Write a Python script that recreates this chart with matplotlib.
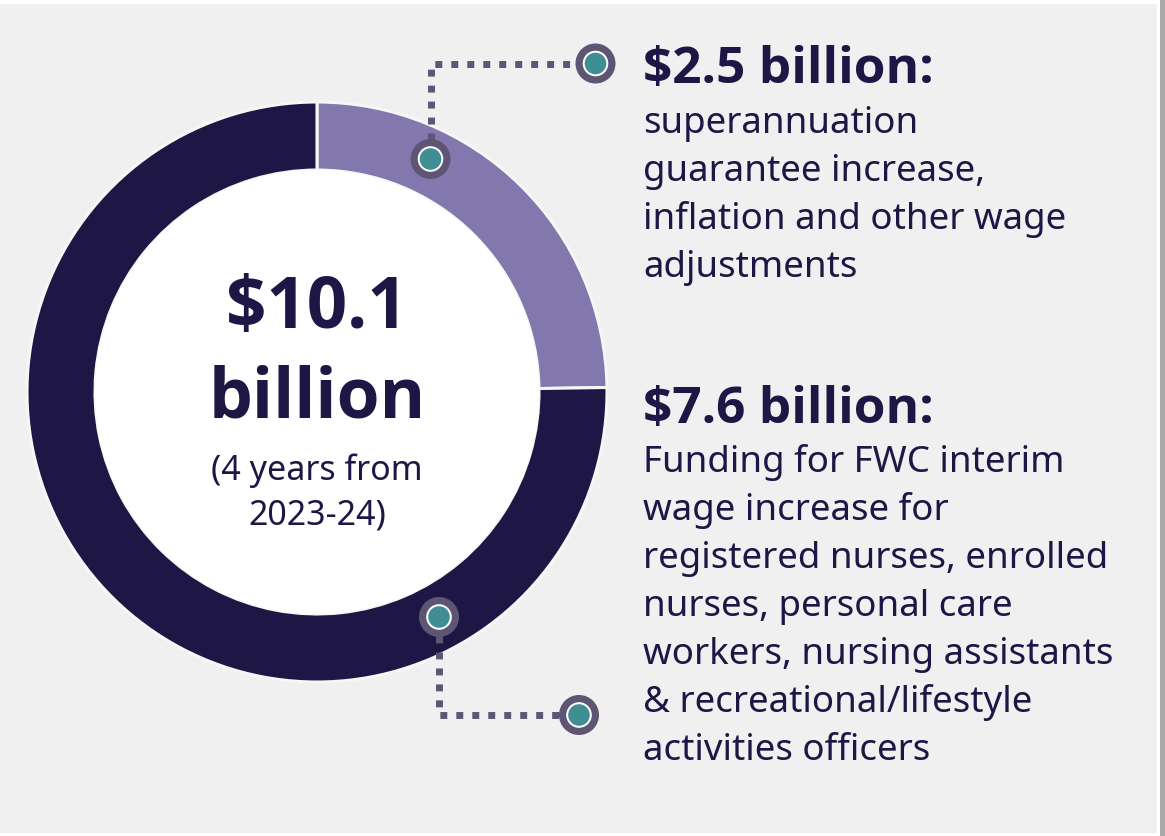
import matplotlib
matplotlib.use("Agg")
import matplotlib.pyplot as plt
from matplotlib.patches import Rectangle, Circle

# ---- data ----
labels = ["$2.5 billion:", "$7.6 billion:"]
values = [2.5, 7.6]
total_label = ["$10.1", "billion"]
total_note = ["(4 years from", "2023-24)"]
desc_top = ["superannuation", "guarantee increase,", "inflation and other wage", "adjustments"]
desc_bottom = ["Funding for FWC interim", "wage increase for", "registered nurses, enrolled",
               "nurses, personal care", "workers, nursing assistants",
               "& recreational/lifestyle", "activities officers"]

# ---- style ----
NAVY = "#1E1745"
LIGHT = "#8378AD"
BG = "#F0F0F0"
MARK = "#5E5473"
TEAL = "#3F8E93"
FONT = "Noto Sans"
BFONT = "Open Sans"

W, H = 1165, 836
fig = plt.figure(figsize=(W / 100, H / 100), dpi=100, facecolor="white")

# background axes in pixel coords
bg = fig.add_axes([0, 0, 1, 1])
bg.set_xlim(0, W); bg.set_ylim(H, 0); bg.axis("off")
bg.add_patch(Rectangle((0, 4), 1157, 829, facecolor=BG, edgecolor="none"))
bg.add_patch(Rectangle((1160, 0), 5, 836, facecolor="#A9A9A9", edgecolor="none"))

# donut
cx, cy, R, r_in = 317, 392, 290, 222
pax = fig.add_axes([(cx - R) / W, (H - cy - R) / H, 2 * R / W, 2 * R / H])
pax.pie(values, colors=[LIGHT, NAVY], startangle=90, counterclock=False, radius=1,
        wedgeprops=dict(width=(R - r_in) / R, edgecolor="#F6F6F6", linewidth=2.2))
pax.add_patch(Circle((0, 0), r_in / R, facecolor="white", edgecolor="none"))
pax.set_xlim(-1, 1); pax.set_ylim(-1, 1); pax.axis("off")

# overlay
ov = fig.add_axes([0, 0, 1, 1])
ov.set_xlim(0, W); ov.set_ylim(H, 0); ov.axis("off"); ov.patch.set_alpha(0)

def marker(x, y):
    ov.add_patch(Circle((x, y), 20, facecolor=MARK, edgecolor="none", zorder=5))
    ov.add_patch(Circle((x, y), 12.8, facecolor="white", edgecolor="none", zorder=6))
    ov.add_patch(Circle((x, y), 10.8, facecolor=TEAL, edgecolor="none", zorder=7))

dot = dict(color=MARK, linewidth=5.0, linestyle=(0, (1, 1.3)), dash_capstyle="butt",
           solid_capstyle="butt", zorder=4)
ov.plot([430.5, 430.5, 580], [140, 63.5, 63.5], **dot)
ov.plot([439, 439, 562], [636, 715, 715], **dot)
marker(430.5, 159)
marker(595.5, 63.5)
marker(439, 617)
marker(579, 715)

# center text
ov.text(cx, 328, total_label[0], ha="center", va="baseline", fontsize=51, fontweight="bold",
        color=NAVY, family=BFONT)
ov.text(cx, 417, total_label[1], ha="center", va="baseline", fontsize=50, fontweight="bold",
        color=NAVY, family=BFONT)
ov.text(cx, 480, total_note[0], ha="center", va="baseline", fontsize=24.5, color=NAVY, family=FONT)
ov.text(cx, 524, total_note[1], ha="center", va="baseline", fontsize=24.5, color=NAVY, family=FONT)

# right side text
tx = 643
ov.text(tx, 83, labels[0], ha="left", va="baseline", fontsize=37, fontweight="bold",
        color=NAVY, family=BFONT)
for i, s in enumerate(desc_top):
    ov.text(tx, 133 + 48 * i, s, ha="left", va="baseline", fontsize=26.4, color=NAVY, family=FONT)
ov.text(tx, 423, labels[1], ha="left", va="baseline", fontsize=37, fontweight="bold",
        color=NAVY, family=BFONT)
for i, s in enumerate(desc_bottom):
    ov.text(tx, 472 + 48 * i, s, ha="left", va="baseline", fontsize=26.4, color=NAVY, family=FONT)

fig.savefig("out.png", dpi=100, facecolor="white")
